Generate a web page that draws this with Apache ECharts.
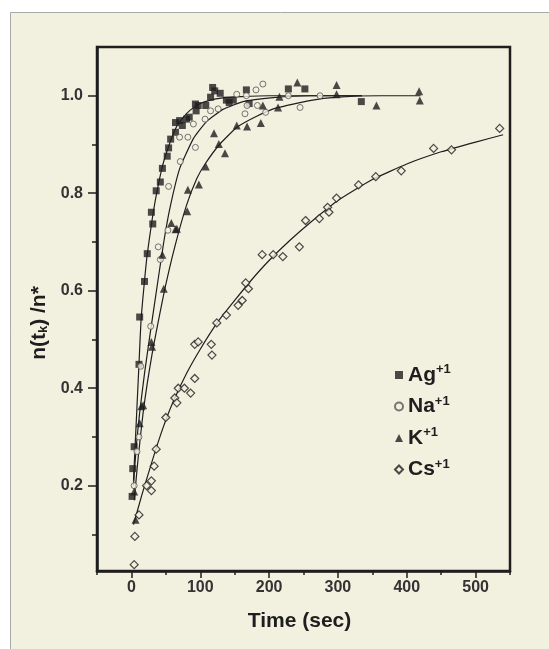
<!DOCTYPE html>
<html>
<head>
<meta charset="utf-8">
<script src="https://cdn.jsdelivr.net/npm/echarts@6/dist/echarts.min.js"></script>
<style>
html,body{margin:0;padding:0;background:#ffffff;}
#chart{width:549px;height:649px;}
</style>
</head>
<body>
<div id="chart"></div>
<script>
// ---- data (time in sec, normalized n(t_k)/n*) ----
const xTickLabels = [0, 100, 200, 300, 400, 500];
const xMinorTicks = [-50, 50, 150, 250, 350, 450, 550];
const yTickLabels = [0.2, 0.4, 0.6, 0.8, 1.0];
const yMinorTicks = [0.1, 0.3, 0.5, 0.7, 0.9];

const agPoints = [[1,0.178],[2,0.235],[4,0.28],[11,0.449],[12,0.546],[19,0.619],[23,0.676],[29,0.761],[31,0.737],[36,0.805],[42,0.823],[45,0.851],[52,0.876],[54,0.893],[57,0.911],[64,0.925],[64,0.945],[70,0.949],[74,0.939],[80,0.952],[84,0.956],[93,0.983],[94,0.969],[97,0.98],[108,0.98],[115,0.997],[118,1.017],[121,1.01],[129,1.005],[138,0.991],[142,0.986],[148,0.991],[167,1.012],[171,0.984],[228,1.014],[252,1.014],[334,0.988]];
const naPoints = [[4,0.2],[8,0.27],[11,0.3],[13.5,0.445],[28,0.527],[39,0.69],[42,0.664],[53,0.724],[54,0.814],[71,0.865],[70,0.915],[82,0.915],[90,0.942],[93,0.894],[107,0.952],[115,0.969],[126,0.973],[153,1.003],[165,0.963],[167,1.0],[168,0.98],[181,1.012],[183,0.98],[191,1.024],[195,0.966],[228,1.0],[245,0.976],[274,1.0]];
const kPoints = [[4,0.188],[6,0.13],[12,0.328],[14.5,0.363],[17,0.365],[29,0.495],[30,0.485],[45,0.674],[47,0.604],[58,0.739],[64,0.726],[66,0.727],[81,0.763],[82,0.807],[98,0.818],[108,0.855],[120,0.923],[127,0.901],[136,0.882],[153,0.939],[168,0.937],[188,0.944],[191,0.98],[213,0.976],[215,0.998],[241,1.027],[298,1.022],[298,1.003],[356,0.98],[418,1.009],[419,0.99]];
const csPoints = [[4,0.038],[5,0.096],[11,0.14],[22,0.2],[29,0.21],[29,0.19],[33,0.24],[36,0.275],[50,0.34],[63,0.38],[66,0.37],[68,0.40],[77,0.40],[86,0.39],[92,0.42],[92,0.49],[97,0.495],[116,0.49],[117,0.468],[124,0.534],[138,0.55],[155,0.57],[161,0.58],[166,0.616],[170,0.604],[190,0.674],[206,0.674],[220,0.67],[244,0.69],[253,0.744],[273,0.748],[285,0.771],[287,0.761],[298,0.79],[330,0.817],[355,0.834],[392,0.846],[439,0.892],[465,0.889],[535,0.933]];

// fitted curves
const agFit = [[3,0.21],[5,0.27],[8,0.36],[11,0.45],[14,0.54],[19,0.62],[23,0.675],[30,0.745],[36,0.795],[45,0.855],[55,0.9],[65,0.935],[75,0.955],[85,0.97],[100,0.984],[115,0.991],[130,0.995],[160,0.998],[200,1.0],[335,1.0]];
const naFit = [[3,0.2],[7,0.28],[12,0.35],[19,0.43],[27,0.51],[39,0.625],[47,0.7],[56,0.77],[70,0.85],[90,0.912],[109,0.947],[133,0.972],[162,0.988],[206,0.996],[260,1.0],[335,1.0]];
const kFit = [[4,0.17],[10,0.26],[17,0.35],[23,0.41],[30,0.47],[36,0.515],[48,0.6],[63,0.69],[80,0.775],[95,0.83],[107,0.86],[128,0.9],[153,0.935],[182,0.958],[211,0.975],[259,0.99],[300,0.997],[360,1.0],[420,1.0]];
const csFit = [[3,0.12],[15,0.18],[30,0.25],[45,0.315],[60,0.37],[80,0.43],[100,0.48],[125,0.535],[150,0.58],[175,0.623],[200,0.662],[230,0.703],[260,0.74],[300,0.785],[350,0.828],[400,0.86],[450,0.885],[500,0.905],[540,0.92]];

const seriesNames = ['Ag', 'Na', 'K', 'Cs'];

const ink = '#1e1e1e';
const panel = '#f2f0df';
const font = 'Liberation Sans';

const chart = echarts.init(document.getElementById('chart'), null, {renderer: 'canvas'});

function fitLine(data) {
  return {
    type: 'line', data: data, showSymbol: false, symbol: 'none',
    smooth: 0.15,
    lineStyle: {color: ink, width: 1.2}, silent: true, z: 2,
    xAxisIndex: 0, yAxisIndex: 0
  };
}

const option = {
  backgroundColor: '#ffffff',
  animation: false,
  graphic: [{
    type: 'rect', z: -10, silent: true,
    shape: {x: 10.5, y: 12.5, width: 560, height: 660},
    style: {fill: panel, stroke: '#a9a9a9', lineWidth: 1}
  }],
  grid: {
    left: 97, top: 47, right: 39, bottom: 78,
    show: true, borderColor: ink, borderWidth: 2.5, backgroundColor: 'transparent'
  },
  xAxis: [{
    type: 'value', min: -50, max: 550,
    name: 'Time (sec)', nameLocation: 'middle', nameGap: 40,
    nameTextStyle: {fontFamily: font, fontWeight: 'bold', fontSize: 21, color: ink, padding: [0, 8, 0, 0]},
    axisLine: {show: true, onZero: false, lineStyle: {color: ink, width: 2.5}},
    axisTick: {show: true, inside: false, length: 7, lineStyle: {color: ink, width: 1.5}, customValues: xTickLabels},
    axisLabel: {customValues: xTickLabels, margin: 9, fontFamily: font, fontWeight: 'bold', fontSize: 16, color: '#333'},
    splitLine: {show: false}
  }, {
    type: 'value', min: -50, max: 550, position: 'bottom',
    axisLine: {show: false, onZero: false},
    axisTick: {show: true, inside: false, length: 4, lineStyle: {color: ink, width: 1.5}, customValues: xMinorTicks},
    axisLabel: {show: false}, splitLine: {show: false}
  }],
  yAxis: [{
    type: 'value', min: 0.025, max: 1.1,
    name: 'n(t{k|k}) /n*', nameLocation: 'middle', nameGap: 44, nameRotate: 90,
    nameTextStyle: {fontFamily: font, fontWeight: 'bold', fontSize: 21, color: ink, padding: [0, 28, 0, 0],
      rich: {k: {fontFamily: font, fontWeight: 'bold', fontSize: 13, color: ink, verticalAlign: 'bottom', padding: [9, 0, 0, 0]}}},
    axisLine: {show: true, onZero: false, lineStyle: {color: ink, width: 2.5}},
    axisTick: {show: true, inside: false, length: 9, lineStyle: {color: ink, width: 1.5}, customValues: yTickLabels},
    axisLabel: {customValues: yTickLabels, margin: 14, formatter: v => v.toFixed(1),
      fontFamily: font, fontWeight: 'bold', fontSize: 16, color: '#333'},
    splitLine: {show: false}
  }, {
    type: 'value', min: 0.025, max: 1.1, position: 'left',
    axisLine: {show: false, onZero: false},
    axisTick: {show: true, inside: false, length: 5, lineStyle: {color: ink, width: 1.5}, customValues: yMinorTicks},
    axisLabel: {show: false}, splitLine: {show: false}
  }],
  legend: {
    orient: 'vertical', left: 389, top: 358, itemGap: 9,
    itemWidth: 8, itemHeight: 8,
    data: seriesNames,
    formatter: name => '{b|' + name + '}{s|+1}',
    textStyle: {
      color: ink,
      rich: {
        b: {fontFamily: font, fontWeight: 'bold', fontSize: 21, color: ink, lineHeight: 24},
        s: {fontFamily: font, fontWeight: 'bold', fontSize: 13, color: ink, verticalAlign: 'top', lineHeight: 24}
      }
    }
  },
  series: [
    fitLine(agFit), fitLine(naFit), fitLine(kFit), fitLine(csFit),
    {name: 'Ag', type: 'scatter', data: agPoints, symbol: 'rect', symbolSize: 7,
      itemStyle: {color: ink, borderColor: ink, borderWidth: 0}, z: 3},
    {name: 'Na', type: 'scatter', data: naPoints, symbol: 'circle', symbolSize: 6,
      itemStyle: {color: panel, borderColor: '#555', borderWidth: 1}, z: 3},
    {name: 'K', type: 'scatter', data: kPoints, symbol: 'triangle', symbolSize: 8,
      itemStyle: {color: ink, borderColor: ink, borderWidth: 0}, z: 3},
    {name: 'Cs', type: 'scatter', data: csPoints, symbol: 'diamond', symbolSize: 8,
      itemStyle: {color: panel, borderColor: ink, borderWidth: 1.2}, z: 3}
  ]
};
chart.setOption(option);
</script>
</body>
</html>
